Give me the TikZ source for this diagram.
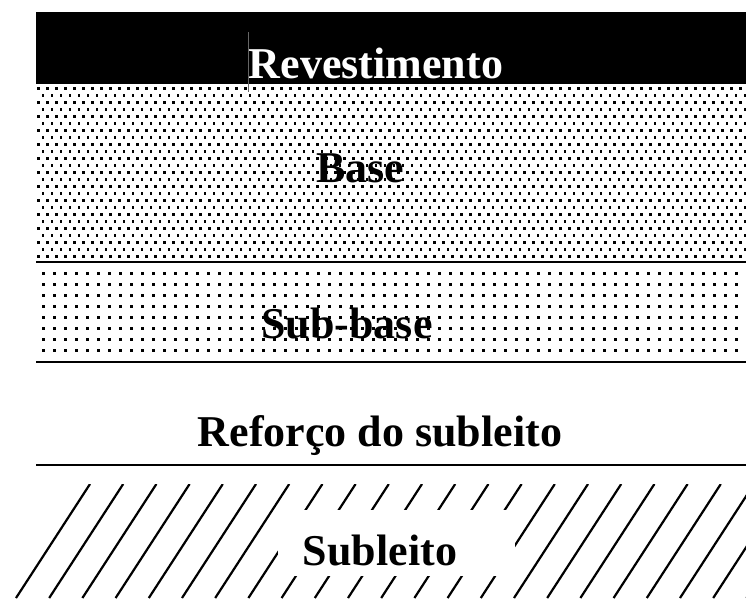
\documentclass[tikz,border=0pt]{standalone}
\usepackage{fontspec}
\setmainfont{Liberation Serif}
\usetikzlibrary{positioning}

\begin{document}
\begin{tikzpicture}[x=1pt, y=-1pt,
  layer/.style = {font=\bfseries\fontsize{44}{48}\selectfont, anchor=base, inner sep=0pt},
  border/.style = {line width=2.5pt},
  grain/.style = {fill=black},
  hatch/.style = {line width=2.2pt}]
  \useasboundingbox (0,0) rectangle (746,598);

  % revestimento
  \fill (36,12) rectangle (746,84);

  % base
  \begin{scope}
    \clip (36,84) rectangle (746,260);
    \foreach \r in {0,...,25} {
      \pgfmathsetmacro\yy{87+7*\r}
      \pgfmathsetmacro\xs{37+mod(\r,2)*4.5}
      \foreach \c in {0,...,79}
        \fill[grain] (\xs+9*\c,\yy) rectangle ++(2.7,2.7);
    }
  \end{scope}

  % sub-base
  \foreach \r in {0,...,7}
    \foreach \c in {0,...,63}
      \fill[grain] (42+11*\c,272+11*\r) rectangle ++(3,3);

  \draw[border] (36,262) -- (746,262);
  \draw[border] (36,362) -- (746,362);
  \draw[border] (36,465) -- (746,465);

  % subleito
  \begin{scope}
    \clip (0,484) rectangle (746,598);
    \foreach \k in {0,...,22}
      \draw[hatch] (90+33.2*\k,484) -- ++(-74,114);
  \end{scope}
  \fill[white] (278,510) rectangle (515,576);

  \node[layer, text=white] at (376,78) (rev) {Revestimento};
  \draw[line width=0.6pt, black!60] (248,32) -- (248,92);
  \node[layer] at (360,182) (base) {Base};
  \node[layer] at (347,338) (subbase) {Sub-base};
  \node[layer] at (380,446) (reforco) {Reforço do subleito};
  \node[layer] at (380,565) (subleito) {Subleito};
\end{tikzpicture}
\end{document}
